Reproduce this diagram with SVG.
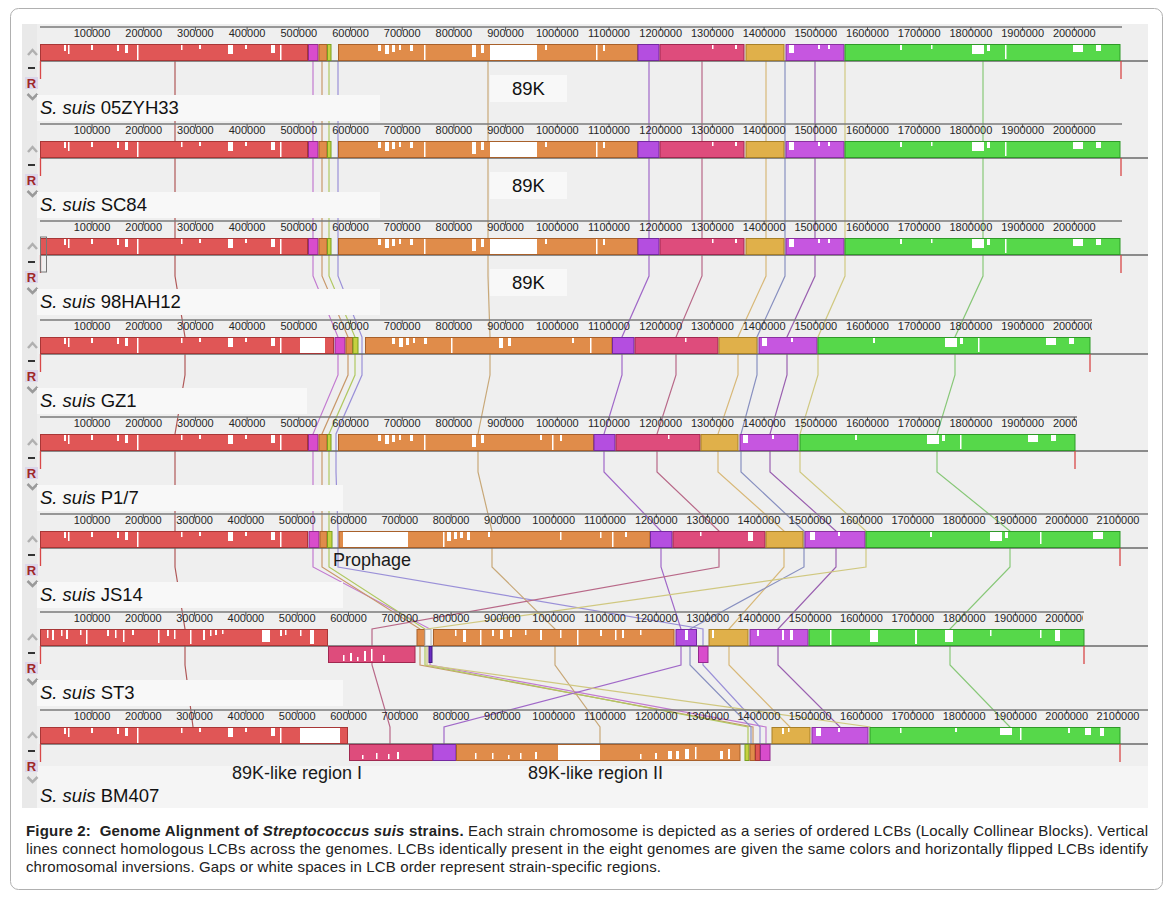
<svg xmlns="http://www.w3.org/2000/svg" width="1173" height="903" viewBox="0 0 1173 903">
<defs>
<style>
.tk{font-family:"Liberation Sans",Arial,sans-serif;font-size:11px;fill:#262626;text-anchor:middle}
.rl{stroke:#7a7a7a;stroke-width:1.3;fill:none}
.tm{stroke:#555;stroke-width:1;fill:none}
.trk{stroke:#6a6a6a;stroke-width:1.5}
.end{stroke:#d84848;stroke-width:1.3;fill:none}
.lb{fill:#f8f8f8}
.nm{font-family:"Liberation Sans",Arial,sans-serif;font-size:18.5px;fill:#111}
.ann{font-family:"Liberation Sans",Arial,sans-serif;font-size:18px;fill:#1a1a1a}
.up{stroke:#b0b0b0;stroke-width:2.5;fill:none}
.dn{stroke:#9a9a9a;stroke-width:2.5;fill:none}
.dash{stroke:#333;stroke-width:2}
.rb{fill:#dcd6ea}
.rt{font-family:"Liberation Sans",Arial,sans-serif;font-size:13px;font-weight:bold;fill:#a02828;text-anchor:middle}
.red{fill:#e05656;stroke:#a83636}
.mag{fill:#d94ccc;stroke:#922a8c}
.org{fill:#e08c4a;stroke:#a8602a}
.olv{fill:#c6d040;stroke:#78a020}
.pur{fill:#b44ee0;stroke:#7428a0}
.pnk{fill:#de4c7c;stroke:#a02850}
.gld{fill:#e0b04a;stroke:#a88028}
.pu2{fill:#c656e0;stroke:#8a30a0}
.grn{fill:#56d84a;stroke:#2f9a28}
.dpu{fill:#6a2cc0;stroke:#401880}
.w{fill:#fff}
.cn{fill:none;stroke-width:1.2}
.cap{font-family:"Liberation Sans",Arial,sans-serif;font-size:15px;fill:#222}
</style>
<clipPath id="c1092"><rect x="0" y="-30" width="1092" height="30"/></clipPath>
<clipPath id="c1077"><rect x="0" y="-30" width="1077" height="30"/></clipPath>
<clipPath id="c1083"><rect x="0" y="-30" width="1083" height="30"/></clipPath>
</defs>

<rect x="10.5" y="8.5" width="1152" height="881" rx="8" fill="#fff" stroke="#b0b0b0"/>
<rect x="22" y="24" width="1126" height="784" fill="#efefef"/>
<rect x="22" y="24" width="15" height="784" fill="#e9e9e9"/>
<rect x="37" y="766" width="1111" height="42" fill="#f5f5f5"/>

<g id="connectors">
<path class="cn" stroke="#b05858" d="M175 61V82L175 141V179L175 238V276L185 337V375L175 434V472L175 531V567L185 629V665L193 727V744"/>
<path class="cn" stroke="#c27ad0" d="M313 61V82L313 141V179L313 238V276L338 337V375L313 434V472L313 531V567L430 629V665L766 727V744"/>
<path class="cn" stroke="#c8986a" d="M322 61V82L322 141V179L322 238V276L348 337V375L322 434V472L322 531V567L420 629V665L753 727V744"/>
<path class="cn" stroke="#b0c860" d="M329 61V82L329 141V179L329 238V276L355 337V375L329 434V472L329 531V567L425 629V665L748 727V744"/>
<path class="cn" stroke="#9a90d8" d="M338 61V82L338 141V179L338 238V276L362 337V375L336 434V472L338 531V567L703 629V665L760 727V744"/>
<path class="cn" stroke="#c8a878" d="M488 61V82L488 141V179L488 238V276L490 337V375L478 434V472L492 531V567L555 629V665L600 727V744"/>
<path class="cn" stroke="#a068c8" d="M649 61V82L649 141V179L649 238V276L622 337V375L604 434V472L661 531V567L681 629V665L444 727V744"/>
<path class="cn" stroke="#b86888" d="M702 61V82L702 141V179L702 238V276L676 337V375L657 434V472L719 531V567L372 629V665L390 727V744"/>
<path class="cn" stroke="#d8b878" d="M766 61V82L766 141V179L766 238V276L738 337V375L718 434V472L784 531V567L729 629V665L790 727V744"/>
<path class="cn" stroke="#8890c0" d="M785 61V82L785 141V179L785 238V276L757 337V375L741 434V472L804 531V567L690 629V665L751 727V744"/>
<path class="cn" stroke="#9a60b0" d="M815 61V82L815 141V179L815 238V276L787 337V375L770 434V472L836 531V567L778 629V665L840 727V744"/>
<path class="cn" stroke="#d0c880" d="M845 61V82L845 141V179L845 238V276L818 337V375L800 434V472L866 531V567L427 629V665L870 727V744"/>
<path class="cn" stroke="#88c878" d="M983 61V82L983 141V179L983 238V276L955 337V375L937 434V472L1010 531V567L950 629V665L1010 727V744"/>
</g>

<g id="genome-05ZYH33" transform="translate(0,44)">
<line class="rl" x1="40" y1="-17" x2="1122" y2="-17"/>
<path class="tm" d="M92 -17v4M143.7 -17v4M195.4 -17v4M247.1 -17v4M298.8 -17v4M350.5 -17v4M402.2 -17v4M453.9 -17v4M505.6 -17v4M557.3 -17v4M609 -17v4M660.7 -17v4M712.4 -17v4M764.1 -17v4M815.8 -17v4M867.5 -17v4M919.2 -17v4M970.9 -17v4M1022.6 -17v4M1074.3 -17v4"/>
<text class="tk" y="-7"><tspan x="92">100000</tspan><tspan x="143.7">200000</tspan><tspan x="195.4">300000</tspan><tspan x="247.1">400000</tspan><tspan x="298.8">500000</tspan><tspan x="350.5">600000</tspan><tspan x="402.2">700000</tspan><tspan x="453.9">800000</tspan><tspan x="505.6">900000</tspan><tspan x="557.3">1000000</tspan><tspan x="609">1100000</tspan><tspan x="660.7">1200000</tspan><tspan x="712.4">1300000</tspan><tspan x="764.1">1400000</tspan><tspan x="815.8">1500000</tspan><tspan x="867.5">1600000</tspan><tspan x="919.2">1700000</tspan><tspan x="970.9">1800000</tspan><tspan x="1022.6">1900000</tspan><tspan x="1074.3">2000000</tspan></text>
<line class="trk" x1="40" y1="17" x2="1148" y2="17"/>
<rect class="red" x="40.5" y="0.5" width="267" height="16"/>
<rect class="mag" x="308.5" y="0.5" width="9.5" height="16"/>
<rect class="org" x="319" y="0.5" width="8" height="16"/>
<rect class="olv" x="327.5" y="0.5" width="3.5" height="16"/>
<rect class="org" x="338.5" y="0.5" width="299" height="16"/>
<rect class="pur" x="638" y="0.5" width="21" height="16"/>
<rect class="pnk" x="660" y="0.5" width="84" height="16"/>
<rect class="gld" x="746" y="0.5" width="38" height="16"/>
<rect class="pu2" x="786" y="0.5" width="58" height="16"/>
<rect class="grn" x="845" y="0.5" width="275" height="16"/>
<path class="w" d="M64 1h2v6h-2zM68 1h1.5v9h-1.5zM91 1h2v5h-2zM117 1h2v6h-2zM125 1h3v8h-3zM137 1h1.5v15h-1.5zM181 1h1.5v5h-1.5zM199 1h2v4h-2zM228 1h5v9h-5zM245 1h2v4h-2zM271 1h4v8h-4zM280 1h1.5v15h-1.5zM378 1h3v6h-3zM385 1h4v9h-4zM392 1h3v7h-3zM399 1h2v5h-2zM410 1h3v6h-3zM424 1h1.5v15h-1.5zM472 1h4v12h-4zM481 1h3v8h-3zM490 1h47v15h-47zM545 1h2v5h-2zM596 1h1.5v15h-1.5zM603 1h2v6h-2zM712 1h1.5v4h-1.5zM735 1h2v4h-2zM789 1h5v8h-5zM818 1h2v4h-2zM828 1h2v4h-2zM900 1h2v5h-2zM931 1h1.5v4h-1.5zM972 1h12v9h-12zM987 1h3v6h-3zM1005 1h1.5v14h-1.5zM1073 1h10v7h-10zM1096 1h5v6h-5z"/>
<path class="end" d="M40.5 17v18M1121 17v18"/>
<polyline class="up" points="28,11 32.5,6 37,11"/>
<line class="dash" x1="28" y1="24" x2="35" y2="24"/>
<rect class="rb" x="25" y="33" width="13" height="12"/>
<text class="rt" x="31.5" y="43.5">R</text>
<polyline class="dn" points="27.5,50 32.5,55 37.5,50"/>
<rect class="lb" x="37" y="51" width="343" height="26"/>
<text class="nm" x="40" y="70"><tspan font-style="italic">S. suis</tspan> 05ZYH33</text>
<rect class="lb" x="490" y="31" width="77" height="27"/>
<text class="nm" x="528.5" y="51" text-anchor="middle">89K</text>
</g>

<g id="genome-SC84" transform="translate(0,141)">
<line class="rl" x1="40" y1="-17" x2="1122" y2="-17"/>
<path class="tm" d="M92 -17v4M143.7 -17v4M195.4 -17v4M247.1 -17v4M298.8 -17v4M350.5 -17v4M402.2 -17v4M453.9 -17v4M505.6 -17v4M557.3 -17v4M609 -17v4M660.7 -17v4M712.4 -17v4M764.1 -17v4M815.8 -17v4M867.5 -17v4M919.2 -17v4M970.9 -17v4M1022.6 -17v4M1074.3 -17v4"/>
<text class="tk" y="-7"><tspan x="92">100000</tspan><tspan x="143.7">200000</tspan><tspan x="195.4">300000</tspan><tspan x="247.1">400000</tspan><tspan x="298.8">500000</tspan><tspan x="350.5">600000</tspan><tspan x="402.2">700000</tspan><tspan x="453.9">800000</tspan><tspan x="505.6">900000</tspan><tspan x="557.3">1000000</tspan><tspan x="609">1100000</tspan><tspan x="660.7">1200000</tspan><tspan x="712.4">1300000</tspan><tspan x="764.1">1400000</tspan><tspan x="815.8">1500000</tspan><tspan x="867.5">1600000</tspan><tspan x="919.2">1700000</tspan><tspan x="970.9">1800000</tspan><tspan x="1022.6">1900000</tspan><tspan x="1074.3">2000000</tspan></text>
<line class="trk" x1="40" y1="17" x2="1148" y2="17"/>
<rect class="red" x="40.5" y="0.5" width="267" height="16"/>
<rect class="mag" x="308.5" y="0.5" width="9.5" height="16"/>
<rect class="org" x="319" y="0.5" width="8" height="16"/>
<rect class="olv" x="327.5" y="0.5" width="3.5" height="16"/>
<rect class="org" x="338.5" y="0.5" width="299" height="16"/>
<rect class="pur" x="638" y="0.5" width="21" height="16"/>
<rect class="pnk" x="660" y="0.5" width="84" height="16"/>
<rect class="gld" x="746" y="0.5" width="38" height="16"/>
<rect class="pu2" x="786" y="0.5" width="58" height="16"/>
<rect class="grn" x="845" y="0.5" width="275" height="16"/>
<path class="w" d="M64 1h2v6h-2zM68 1h1.5v9h-1.5zM91 1h2v5h-2zM117 1h2v6h-2zM125 1h3v8h-3zM137 1h1.5v15h-1.5zM181 1h1.5v5h-1.5zM199 1h2v4h-2zM228 1h5v9h-5zM245 1h2v4h-2zM271 1h4v8h-4zM280 1h1.5v15h-1.5zM378 1h3v6h-3zM385 1h4v9h-4zM392 1h3v7h-3zM399 1h2v5h-2zM410 1h3v6h-3zM424 1h1.5v15h-1.5zM472 1h4v12h-4zM481 1h3v8h-3zM490 1h47v15h-47zM545 1h2v5h-2zM596 1h1.5v15h-1.5zM603 1h2v6h-2zM712 1h1.5v4h-1.5zM735 1h2v4h-2zM789 1h5v8h-5zM818 1h2v4h-2zM828 1h2v4h-2zM900 1h2v5h-2zM931 1h1.5v4h-1.5zM972 1h12v9h-12zM987 1h3v6h-3zM1005 1h1.5v14h-1.5zM1073 1h10v7h-10zM1096 1h5v6h-5z"/>
<path class="end" d="M40.5 17v18M1121 17v18"/>
<polyline class="up" points="28,11 32.5,6 37,11"/>
<line class="dash" x1="28" y1="24" x2="35" y2="24"/>
<rect class="rb" x="25" y="33" width="13" height="12"/>
<text class="rt" x="31.5" y="43.5">R</text>
<polyline class="dn" points="27.5,50 32.5,55 37.5,50"/>
<rect class="lb" x="37" y="51" width="343" height="26"/>
<text class="nm" x="40" y="70"><tspan font-style="italic">S. suis</tspan> SC84</text>
<rect class="lb" x="490" y="31" width="77" height="27"/>
<text class="nm" x="528.5" y="51" text-anchor="middle">89K</text>
</g>

<g id="genome-98HAH12" transform="translate(0,238)">
<line class="rl" x1="40" y1="-17" x2="1122" y2="-17"/>
<path class="tm" d="M92 -17v4M143.7 -17v4M195.4 -17v4M247.1 -17v4M298.8 -17v4M350.5 -17v4M402.2 -17v4M453.9 -17v4M505.6 -17v4M557.3 -17v4M609 -17v4M660.7 -17v4M712.4 -17v4M764.1 -17v4M815.8 -17v4M867.5 -17v4M919.2 -17v4M970.9 -17v4M1022.6 -17v4M1074.3 -17v4"/>
<text class="tk" y="-7"><tspan x="92">100000</tspan><tspan x="143.7">200000</tspan><tspan x="195.4">300000</tspan><tspan x="247.1">400000</tspan><tspan x="298.8">500000</tspan><tspan x="350.5">600000</tspan><tspan x="402.2">700000</tspan><tspan x="453.9">800000</tspan><tspan x="505.6">900000</tspan><tspan x="557.3">1000000</tspan><tspan x="609">1100000</tspan><tspan x="660.7">1200000</tspan><tspan x="712.4">1300000</tspan><tspan x="764.1">1400000</tspan><tspan x="815.8">1500000</tspan><tspan x="867.5">1600000</tspan><tspan x="919.2">1700000</tspan><tspan x="970.9">1800000</tspan><tspan x="1022.6">1900000</tspan><tspan x="1074.3">2000000</tspan></text>
<line class="trk" x1="40" y1="17" x2="1148" y2="17"/>
<rect class="red" x="40.5" y="0.5" width="267" height="16"/>
<rect class="mag" x="308.5" y="0.5" width="9.5" height="16"/>
<rect class="org" x="319" y="0.5" width="8" height="16"/>
<rect class="olv" x="327.5" y="0.5" width="3.5" height="16"/>
<rect class="org" x="338.5" y="0.5" width="299" height="16"/>
<rect class="pur" x="638" y="0.5" width="21" height="16"/>
<rect class="pnk" x="660" y="0.5" width="84" height="16"/>
<rect class="gld" x="746" y="0.5" width="38" height="16"/>
<rect class="pu2" x="786" y="0.5" width="58" height="16"/>
<rect class="grn" x="845" y="0.5" width="275" height="16"/>
<path class="w" d="M64 1h2v6h-2zM68 1h1.5v9h-1.5zM91 1h2v5h-2zM117 1h2v6h-2zM125 1h3v8h-3zM137 1h1.5v15h-1.5zM181 1h1.5v5h-1.5zM199 1h2v4h-2zM228 1h5v9h-5zM245 1h2v4h-2zM271 1h4v8h-4zM280 1h1.5v15h-1.5zM378 1h3v6h-3zM385 1h4v9h-4zM392 1h3v7h-3zM399 1h2v5h-2zM410 1h3v6h-3zM424 1h1.5v15h-1.5zM472 1h4v12h-4zM481 1h3v8h-3zM490 1h47v15h-47zM545 1h2v5h-2zM596 1h1.5v15h-1.5zM603 1h2v6h-2zM712 1h1.5v4h-1.5zM735 1h2v4h-2zM789 1h5v8h-5zM818 1h2v4h-2zM828 1h2v4h-2zM900 1h2v5h-2zM931 1h1.5v4h-1.5zM972 1h12v9h-12zM987 1h3v6h-3zM1005 1h1.5v14h-1.5zM1073 1h10v7h-10zM1096 1h5v6h-5z"/>
<path class="end" d="M40.5 17v18M1121 17v18"/>
<rect x="40.5" y="-1" width="6" height="35" fill="none" stroke="#777"/>
<polyline class="up" points="28,11 32.5,6 37,11"/>
<line class="dash" x1="28" y1="24" x2="35" y2="24"/>
<rect class="rb" x="25" y="33" width="13" height="12"/>
<text class="rt" x="31.5" y="43.5">R</text>
<polyline class="dn" points="27.5,50 32.5,55 37.5,50"/>
<rect class="lb" x="37" y="51" width="343" height="26"/>
<text class="nm" x="40" y="70"><tspan font-style="italic">S. suis</tspan> 98HAH12</text>
<rect class="lb" x="490" y="31" width="77" height="27"/>
<text class="nm" x="528.5" y="51" text-anchor="middle">89K</text>
</g>

<g id="genome-GZ1" transform="translate(0,337)">
<line class="rl" x1="40" y1="-17" x2="1092" y2="-17"/>
<g clip-path="url(#c1092)">
<path class="tm" d="M92 -17v4M143.7 -17v4M195.4 -17v4M247.1 -17v4M298.8 -17v4M350.5 -17v4M402.2 -17v4M453.9 -17v4M505.6 -17v4M557.3 -17v4M609 -17v4M660.7 -17v4M712.4 -17v4M764.1 -17v4M815.8 -17v4M867.5 -17v4M919.2 -17v4M970.9 -17v4M1022.6 -17v4M1074.3 -17v4"/>
<text class="tk" y="-7"><tspan x="92">100000</tspan><tspan x="143.7">200000</tspan><tspan x="195.4">300000</tspan><tspan x="247.1">400000</tspan><tspan x="298.8">500000</tspan><tspan x="350.5">600000</tspan><tspan x="402.2">700000</tspan><tspan x="453.9">800000</tspan><tspan x="505.6">900000</tspan><tspan x="557.3">1000000</tspan><tspan x="609">1100000</tspan><tspan x="660.7">1200000</tspan><tspan x="712.4">1300000</tspan><tspan x="764.1">1400000</tspan><tspan x="815.8">1500000</tspan><tspan x="867.5">1600000</tspan><tspan x="919.2">1700000</tspan><tspan x="970.9">1800000</tspan><tspan x="1022.6">1900000</tspan><tspan x="1074.3">2000000</tspan></text>
</g>
<line class="trk" x1="40" y1="17" x2="1148" y2="17"/>
<rect class="red" x="40.5" y="0.5" width="293" height="16"/>
<rect class="mag" x="335" y="0.5" width="10" height="16"/>
<rect class="org" x="346" y="0.5" width="6.5" height="16"/>
<rect class="olv" x="353" y="0.5" width="5" height="16"/>
<rect class="org" x="365.5" y="0.5" width="246.5" height="16"/>
<rect class="pur" x="612.5" y="0.5" width="21.5" height="16"/>
<rect class="pnk" x="635" y="0.5" width="83" height="16"/>
<rect class="gld" x="719" y="0.5" width="38" height="16"/>
<rect class="pu2" x="759" y="0.5" width="58" height="16"/>
<rect class="grn" x="818" y="0.5" width="272" height="16"/>
<path class="w" d="M64 1h2v6h-2zM68 1h1.5v9h-1.5zM91 1h2v5h-2zM117 1h2v6h-2zM125 1h3v8h-3zM137 1h1.5v15h-1.5zM181 1h1.5v5h-1.5zM199 1h2v4h-2zM228 1h5v9h-5zM245 1h2v4h-2zM271 1h4v8h-4zM280 1h1.5v15h-1.5zM300 1h25v15h-25zM392 1h3v6h-3zM399 1h4v9h-4zM406 1h3v7h-3zM413 1h2v5h-2zM424 1h3v6h-3zM451 1h1.5v15h-1.5zM499 1h4v10h-4zM508 1h3v8h-3zM572 1h2v5h-2zM590 1h1.5v15h-1.5zM685 1h1.5v4h-1.5zM762 1h5v8h-5zM791 1h2v4h-2zM873 1h2v5h-2zM945 1h12v9h-12zM960 1h3v6h-3zM978 1h1.5v14h-1.5zM1046 1h10v7h-10zM1069 1h5v6h-5z"/>
<path class="end" d="M40.5 17v18M1090 17v18"/>
<polyline class="up" points="28,11 32.5,6 37,11"/>
<line class="dash" x1="28" y1="24" x2="35" y2="24"/>
<rect class="rb" x="25" y="33" width="13" height="12"/>
<text class="rt" x="31.5" y="43.5">R</text>
<polyline class="dn" points="27.5,50 32.5,55 37.5,50"/>
<rect class="lb" x="37" y="51" width="270" height="26"/>
<text class="nm" x="40" y="70"><tspan font-style="italic">S. suis</tspan> GZ1</text>
</g>

<g id="genome-P1-7" transform="translate(0,434)">
<line class="rl" x1="40" y1="-17" x2="1077" y2="-17"/>
<g clip-path="url(#c1077)">
<path class="tm" d="M92 -17v4M143.7 -17v4M195.4 -17v4M247.1 -17v4M298.8 -17v4M350.5 -17v4M402.2 -17v4M453.9 -17v4M505.6 -17v4M557.3 -17v4M609 -17v4M660.7 -17v4M712.4 -17v4M764.1 -17v4M815.8 -17v4M867.5 -17v4M919.2 -17v4M970.9 -17v4M1022.6 -17v4M1074.3 -17v4"/>
<text class="tk" y="-7"><tspan x="92">100000</tspan><tspan x="143.7">200000</tspan><tspan x="195.4">300000</tspan><tspan x="247.1">400000</tspan><tspan x="298.8">500000</tspan><tspan x="350.5">600000</tspan><tspan x="402.2">700000</tspan><tspan x="453.9">800000</tspan><tspan x="505.6">900000</tspan><tspan x="557.3">1000000</tspan><tspan x="609">1100000</tspan><tspan x="660.7">1200000</tspan><tspan x="712.4">1300000</tspan><tspan x="764.1">1400000</tspan><tspan x="815.8">1500000</tspan><tspan x="867.5">1600000</tspan><tspan x="919.2">1700000</tspan><tspan x="970.9">1800000</tspan><tspan x="1022.6">1900000</tspan><tspan x="1074.3">2000000</tspan></text>
</g>
<line class="trk" x1="40" y1="17" x2="1148" y2="17"/>
<rect class="red" x="40.5" y="0.5" width="267" height="16"/>
<rect class="mag" x="308.5" y="0.5" width="9.5" height="16"/>
<rect class="org" x="319" y="0.5" width="8" height="16"/>
<rect class="olv" x="327.5" y="0.5" width="3.5" height="16"/>
<rect class="org" x="338.5" y="0.5" width="255" height="16"/>
<rect class="pur" x="594" y="0.5" width="21" height="16"/>
<rect class="pnk" x="616" y="0.5" width="84" height="16"/>
<rect class="gld" x="701" y="0.5" width="37" height="16"/>
<rect class="pu2" x="740" y="0.5" width="58" height="16"/>
<rect class="grn" x="800" y="0.5" width="275" height="16"/>
<path class="w" d="M64 1h2v6h-2zM68 1h1.5v9h-1.5zM91 1h2v5h-2zM117 1h2v6h-2zM125 1h3v8h-3zM137 1h1.5v15h-1.5zM181 1h1.5v5h-1.5zM199 1h2v4h-2zM228 1h5v9h-5zM245 1h2v4h-2zM271 1h4v8h-4zM280 1h1.5v15h-1.5zM378 1h3v6h-3zM385 1h4v9h-4zM392 1h3v7h-3zM399 1h2v5h-2zM410 1h3v6h-3zM424 1h1.5v15h-1.5zM472 1h4v12h-4zM481 1h3v8h-3zM540 1h2v5h-2zM552 1h1.5v15h-1.5zM560 1h2v6h-2zM668 1h1.5v4h-1.5zM743 1h5v8h-5zM772 1h2v4h-2zM855 1h2v5h-2zM927 1h12v9h-12zM942 1h3v6h-3zM960 1h1.5v14h-1.5zM1028 1h10v7h-10zM1051 1h5v6h-5z"/>
<path class="end" d="M40.5 17v18M1075 17v18"/>
<polyline class="up" points="28,11 32.5,6 37,11"/>
<line class="dash" x1="28" y1="24" x2="35" y2="24"/>
<rect class="rb" x="25" y="33" width="13" height="12"/>
<text class="rt" x="31.5" y="43.5">R</text>
<polyline class="dn" points="27.5,50 32.5,55 37.5,50"/>
<rect class="lb" x="37" y="51" width="306" height="26"/>
<text class="nm" x="40" y="70"><tspan font-style="italic">S. suis</tspan> P1/7</text>
</g>

<g id="genome-JS14" transform="translate(0,531)">
<line class="rl" x1="40" y1="-17" x2="1148" y2="-17"/>
<path class="tm" d="M92 -17v4M143.3 -17v4M194.6 -17v4M245.9 -17v4M297.2 -17v4M348.5 -17v4M399.8 -17v4M451.1 -17v4M502.4 -17v4M553.7 -17v4M605 -17v4M656.3 -17v4M707.6 -17v4M758.9 -17v4M810.2 -17v4M861.5 -17v4M912.8 -17v4M964.1 -17v4M1015.4 -17v4M1066.7 -17v4M1118 -17v4"/>
<text class="tk" y="-7"><tspan x="92">100000</tspan><tspan x="143.3">200000</tspan><tspan x="194.6">300000</tspan><tspan x="245.9">400000</tspan><tspan x="297.2">500000</tspan><tspan x="348.5">600000</tspan><tspan x="399.8">700000</tspan><tspan x="451.1">800000</tspan><tspan x="502.4">900000</tspan><tspan x="553.7">1000000</tspan><tspan x="605">1100000</tspan><tspan x="656.3">1200000</tspan><tspan x="707.6">1300000</tspan><tspan x="758.9">1400000</tspan><tspan x="810.2">1500000</tspan><tspan x="861.5">1600000</tspan><tspan x="912.8">1700000</tspan><tspan x="964.1">1800000</tspan><tspan x="1015.4">1900000</tspan><tspan x="1066.7">2000000</tspan><tspan x="1118">2100000</tspan></text>
<line class="trk" x1="40" y1="17" x2="1148" y2="17"/>
<rect class="red" x="40.5" y="0.5" width="267" height="16"/>
<rect class="mag" x="309" y="0.5" width="10" height="16"/>
<rect class="org" x="320" y="0.5" width="7" height="16"/>
<rect class="olv" x="327.5" y="0.5" width="4.5" height="16"/>
<rect class="org" x="339" y="0.5" width="311" height="16"/>
<rect class="pur" x="650.5" y="0.5" width="21.5" height="16"/>
<rect class="pnk" x="673" y="0.5" width="92" height="16"/>
<rect class="gld" x="766" y="0.5" width="37" height="16"/>
<rect class="pu2" x="805" y="0.5" width="60" height="16"/>
<rect class="grn" x="866" y="0.5" width="254" height="16"/>
<path class="w" d="M64 1h2v6h-2zM68 1h1.5v9h-1.5zM91 1h2v5h-2zM117 1h2v6h-2zM125 1h3v8h-3zM137 1h1.5v15h-1.5zM181 1h1.5v5h-1.5zM199 1h2v4h-2zM228 1h5v9h-5zM245 1h2v4h-2zM271 1h4v8h-4zM280 1h1.5v15h-1.5zM343 1h65v15h-65zM443 1h1.5v15h-1.5zM447 1h4v9h-4zM454 1h3v7h-3zM460 1h3v6h-3zM467 1h3v8h-3zM488 1h2v5h-2zM560 1h1.5v8h-1.5zM600 1h1.5v6h-1.5zM612 1h1.5v15h-1.5zM625 1h2v5h-2zM700 1h1.5v4h-1.5zM748 1h5v9h-5zM810 1h5v8h-5zM838 1h2v4h-2zM930 1h2v5h-2zM990 1h12v9h-12zM1005 1h3v6h-3zM1040 1h1.5v12h-1.5zM1093 1h10v7h-10z"/>
<path class="end" d="M40.5 17v18M1120 17v18"/>
<polyline class="up" points="28,11 32.5,6 37,11"/>
<line class="dash" x1="28" y1="24" x2="35" y2="24"/>
<rect class="rb" x="25" y="33" width="13" height="12"/>
<text class="rt" x="31.5" y="43.5">R</text>
<polyline class="dn" points="27.5,50 32.5,55 37.5,50"/>
<rect class="lb" x="37" y="51" width="306" height="26"/>
<text class="nm" x="40" y="70"><tspan font-style="italic">S. suis</tspan> JS14</text>
<text class="ann" x="333" y="35">Prophage</text>
</g>

<g id="genome-ST3" transform="translate(0,629)">
<line class="rl" x1="40" y1="-17" x2="1084" y2="-17"/>
<g clip-path="url(#c1083)">
<path class="tm" d="M92 -17v4M143.3 -17v4M194.6 -17v4M245.9 -17v4M297.2 -17v4M348.5 -17v4M399.8 -17v4M451.1 -17v4M502.4 -17v4M553.7 -17v4M605 -17v4M656.3 -17v4M707.6 -17v4M758.9 -17v4M810.2 -17v4M861.5 -17v4M912.8 -17v4M964.1 -17v4M1015.4 -17v4M1066.7 -17v4"/>
<text class="tk" y="-7"><tspan x="92">100000</tspan><tspan x="143.3">200000</tspan><tspan x="194.6">300000</tspan><tspan x="245.9">400000</tspan><tspan x="297.2">500000</tspan><tspan x="348.5">600000</tspan><tspan x="399.8">700000</tspan><tspan x="451.1">800000</tspan><tspan x="502.4">900000</tspan><tspan x="553.7">1000000</tspan><tspan x="605">1100000</tspan><tspan x="656.3">1200000</tspan><tspan x="707.6">1300000</tspan><tspan x="758.9">1400000</tspan><tspan x="810.2">1500000</tspan><tspan x="861.5">1600000</tspan><tspan x="912.8">1700000</tspan><tspan x="964.1">1800000</tspan><tspan x="1015.4">1900000</tspan><tspan x="1066.7">2000000</tspan></text>
</g>
<line class="trk" x1="40" y1="17" x2="1148" y2="17"/>
<rect class="red" x="40.5" y="0.5" width="287" height="16"/>
<rect class="pnk" x="328.5" y="17.5" width="86.5" height="16"/>
<rect class="org" x="417" y="0.5" width="7.5" height="16"/>
<rect x="425" y="0.5" width="6" height="16" fill="#f6f6f6" stroke="#bbb"/>
<rect class="dpu" x="429" y="17.5" width="3" height="16"/>
<rect class="org" x="433.5" y="0.5" width="240.5" height="16"/>
<rect class="pur" x="676" y="0.5" width="20.5" height="16"/>
<rect class="mag" x="698.5" y="17.5" width="9.5" height="16"/>
<rect class="gld" x="709" y="0.5" width="39" height="16"/>
<rect class="pu2" x="750" y="0.5" width="58" height="16"/>
<rect class="grn" x="809" y="0.5" width="275" height="16"/>
<path class="w" d="M47 1h1.5v8h-1.5zM52 1h2v10h-2zM61 1h1.5v6h-1.5zM66 1h2v9h-2zM80 1h1.5v5h-1.5zM86 1h1.5v14h-1.5zM107 1h2v6h-2zM115 1h1.5v8h-1.5zM123 1h1.5v12h-1.5zM132 1h2v5h-2zM158 1h1.5v13h-1.5zM167 1h2v6h-2zM174 1h1.5v9h-1.5zM190 1h1.5v14h-1.5zM203 1h2v10h-2zM210 1h1.5v6h-1.5zM215 1h2v5h-2zM222 1h1.5v4h-1.5zM262 1h8v12h-8zM280 1h2v6h-2zM285 1h1.5v5h-1.5zM300 1h1.5v6h-1.5zM310 1h4v14h-4zM343 26h1.5v6h-1.5zM350 24h2v8h-2zM357 28h1.5v4h-1.5zM364 22h2v10h-2zM371 20h1.5v12h-1.5zM383 26h1.5v6h-1.5zM455 1h1.5v6h-1.5zM463 1h3v12h-3zM480 1h1.5v15h-1.5zM492 1h2v6h-2zM500 1h3v9h-3zM510 1h2v7h-2zM525 1h1.5v5h-1.5zM540 1h2v10h-2zM560 1h1.5v8h-1.5zM577 1h1.5v15h-1.5zM600 1h2v6h-2zM615 1h1.5v10h-1.5zM622 1h2v8h-2zM640 1h1.5v5h-1.5zM685 1h3v10h-3zM712 1h2v8h-2zM757 1h2v6h-2zM782 1h2v10h-2zM790 1h3v10h-3zM830 1h1.5v15h-1.5zM870 1h8v12h-8zM915 1h2v14h-2zM945 1h8v12h-8zM990 1h1.5v6h-1.5zM1040 1h1.5v8h-1.5zM1055 1h5v11h-5z"/>
<path class="end" d="M40.5 17v18M1084 17v18"/>
<polyline class="up" points="28,11 32.5,6 37,11"/>
<line class="dash" x1="28" y1="24" x2="35" y2="24"/>
<rect class="rb" x="25" y="33" width="13" height="12"/>
<text class="rt" x="31.5" y="43.5">R</text>
<polyline class="dn" points="27.5,50 32.5,55 37.5,50"/>
<rect class="lb" x="37" y="51" width="306" height="26"/>
<text class="nm" x="40" y="70"><tspan font-style="italic">S. suis</tspan> ST3</text>
</g>

<g id="genome-BM407" transform="translate(0,727)">
<line class="rl" x1="40" y1="-17" x2="1148" y2="-17"/>
<path class="tm" d="M92 -17v4M143.3 -17v4M194.6 -17v4M245.9 -17v4M297.2 -17v4M348.5 -17v4M399.8 -17v4M451.1 -17v4M502.4 -17v4M553.7 -17v4M605 -17v4M656.3 -17v4M707.6 -17v4M758.9 -17v4M810.2 -17v4M861.5 -17v4M912.8 -17v4M964.1 -17v4M1015.4 -17v4M1066.7 -17v4M1118 -17v4"/>
<text class="tk" y="-7"><tspan x="92">100000</tspan><tspan x="143.3">200000</tspan><tspan x="194.6">300000</tspan><tspan x="245.9">400000</tspan><tspan x="297.2">500000</tspan><tspan x="348.5">600000</tspan><tspan x="399.8">700000</tspan><tspan x="451.1">800000</tspan><tspan x="502.4">900000</tspan><tspan x="553.7">1000000</tspan><tspan x="605">1100000</tspan><tspan x="656.3">1200000</tspan><tspan x="707.6">1300000</tspan><tspan x="758.9">1400000</tspan><tspan x="810.2">1500000</tspan><tspan x="861.5">1600000</tspan><tspan x="912.8">1700000</tspan><tspan x="964.1">1800000</tspan><tspan x="1015.4">1900000</tspan><tspan x="1066.7">2000000</tspan><tspan x="1118">2100000</tspan></text>
<line class="trk" x1="40" y1="17" x2="1148" y2="17"/>
<rect class="red" x="40.5" y="0.5" width="307" height="16"/>
<rect class="pnk" x="349.5" y="17.5" width="83.5" height="16"/>
<rect class="pur" x="433" y="17.5" width="23" height="16"/>
<rect class="org" x="456.5" y="17.5" width="283.5" height="16"/>
<rect class="olv" x="745" y="17.5" width="4" height="16"/>
<rect class="org" x="750" y="17.5" width="5" height="16"/>
<rect class="red" x="755.5" y="17.5" width="4.5" height="16"/>
<rect class="mag" x="760.5" y="17.5" width="9.5" height="16"/>
<rect class="gld" x="772" y="0.5" width="38" height="16"/>
<rect class="pu2" x="812" y="0.5" width="56" height="16"/>
<rect class="grn" x="870" y="0.5" width="250" height="16"/>
<path class="w" d="M64 1h2v6h-2zM68 1h1.5v9h-1.5zM91 1h2v5h-2zM117 1h2v6h-2zM125 1h3v8h-3zM137 1h1.5v15h-1.5zM181 1h1.5v5h-1.5zM199 1h2v4h-2zM228 1h5v9h-5zM245 1h2v4h-2zM271 1h4v8h-4zM280 1h1.5v15h-1.5zM300 1h40v15h-40zM362 28h1.5v4h-1.5zM376 26h1.5v6h-1.5zM388 27h1.5v5h-1.5zM397 25h2v7h-2zM475 26h1.5v6h-1.5zM492 26h1.5v6h-1.5zM508 28h1.5v4h-1.5zM520 26h1.5v6h-1.5zM535 25h2v7h-2zM558 18h42v15h-42zM640 27h1.5v5h-1.5zM655 26h2v6h-2zM668 24h4v8h-4zM676 24h3v8h-3zM685 22h4v10h-4zM695 20h1.5v12h-1.5zM720 24h3v8h-3zM728 22h2v10h-2zM782 1h2v6h-2zM788 1h1.5v4h-1.5zM816 1h5v8h-5zM838 1h2v4h-2zM900 1h1.5v5h-1.5zM955 1h2v4h-2zM1000 1h12v7h-12zM1020 1h1.5v12h-1.5zM1068 1h2v5h-2zM1085 1h6v7h-6zM1100 1h4v8h-4z"/>
<path class="end" d="M40.5 17v18M1120 17v18"/>
<polyline class="up" points="28,11 32.5,6 37,11"/>
<line class="dash" x1="28" y1="24" x2="35" y2="24"/>
<rect class="rb" x="25" y="33" width="13" height="12"/>
<text class="rt" x="31.5" y="43.5">R</text>
<polyline class="up" points="27.5,50 32.5,55 37.5,50"/>
<text class="ann" x="232" y="52">89K-like region I</text>
<text class="ann" x="528" y="52">89K-like region II</text>
<text class="nm" x="40" y="75"><tspan font-style="italic">S. suis</tspan> BM407</text>
</g>

<g id="caption">
<text class="cap" x="26" y="836" textLength="1122" lengthAdjust="spacing" xml:space="preserve"><tspan font-weight="bold">Figure 2:  Genome Alignment of </tspan><tspan font-weight="bold" font-style="italic">Streptococcus suis</tspan><tspan font-weight="bold"> strains.</tspan> Each strain chromosome is depicted as a series of ordered LCBs (Locally Collinear Blocks). Vertical</text>
<text class="cap" x="26" y="854" textLength="1122" lengthAdjust="spacing">lines connect homologous LCBs across the genomes. LCBs identically present in the eight genomes are given the same colors and horizontally flipped LCBs identify</text>
<text class="cap" x="26" y="872" textLength="635" lengthAdjust="spacing">chromosomal inversions. Gaps or white spaces in LCB order represent strain-specific regions.</text>
</g>
</svg>
